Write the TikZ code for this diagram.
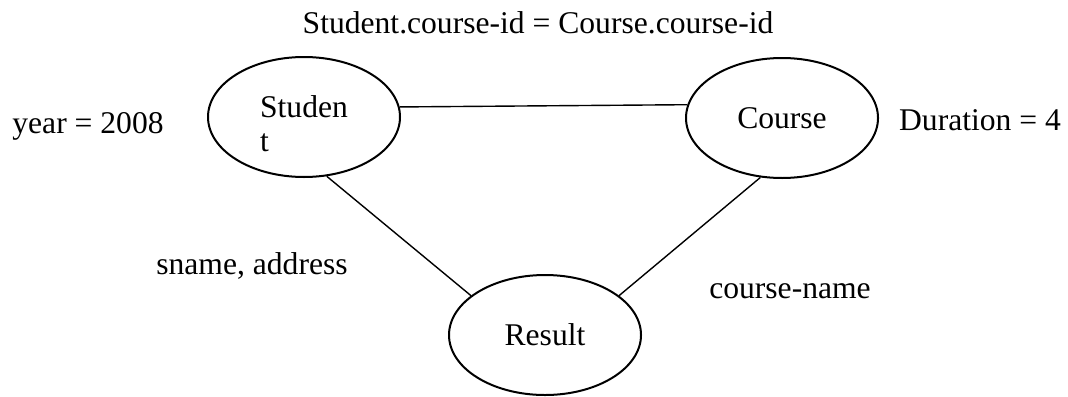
\documentclass[tikz,border=0pt]{standalone}
\usepackage{fontspec}
\setmainfont{Liberation Serif}
\usetikzlibrary{shapes.geometric}

\begin{document}
\begin{tikzpicture}[x=0.5pt, y=-0.5pt, line width=0.7pt,
    every node/.style={font=\fontsize{15.8}{17}\selectfont}]
      \tikzstyle{entity}=[ellipse, draw, line width=1pt, inner sep=0pt,
        minimum width=96pt, minimum height=60pt]

      \useasboundingbox (0,0) rectangle (1068,396);

      % The three relations of the query.
      \node[entity, align=left, text height=35pt]
        (student) at (304,117)   % top left.
        {Studen\\t};
      \node[entity]
        (course) at (782,118)    % top right.
        {Course};
      \node[entity]
        (result) at (545,335)    % bottom middle.
        {Result};

      % Conditions and attributes written round them.
      \node[anchor=base] (join) at (538,33) {Student.course-id = Course.course-id};
      \node[anchor=base] (year) at (88,133) {year = 2008};
      \node[anchor=base] (dur) at (980,130) {Duration = 4};
      \node[anchor=base] (sattr) at (252,274) {sname, address};
      \node[anchor=base] (cattr) at (790,298) {course-name};

      % Join lines between the relations.
      \path
        (student.6) edge (course.172)
        (student.-69) edge (result.152)
        (course.-110) edge (result.28);
    \end{tikzpicture}
\end{document}
